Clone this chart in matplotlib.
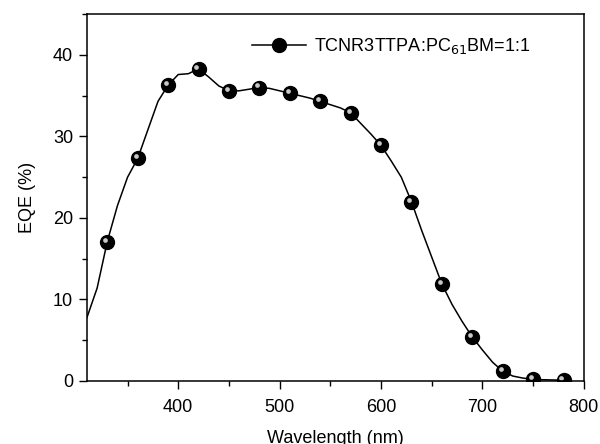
import matplotlib
matplotlib.use('Agg')
from matplotlib import pyplot as plt
from matplotlib import transforms
from matplotlib.ticker import MultipleLocator

plt.rcParams['font.family'] = ['Liberation Sans', 'DejaVu Sans']
plt.rcParams['font.size'] = 13

# EQE spectrum, every 10 nm (markers every 30 nm starting at 330)
wavelength = [310, 320, 330, 340, 350, 360, 370, 380, 390, 400,
              410, 420, 430, 440, 450, 460, 470, 480, 490, 500,
              510, 520, 530, 540, 550, 560, 570, 580, 590, 600,
              610, 620, 630, 640, 650, 660, 670, 680, 690, 700,
              710, 720, 730, 740, 750, 760, 770, 780]
eqe = [7.8, 11.4, 17.1, 21.5, 25.0, 27.3, 30.8, 34.3, 36.3, 37.6,
       37.7, 38.3, 37.3, 36.2, 35.6, 35.6, 35.8, 36.0, 35.9, 35.6,
       35.3, 35.0, 34.7, 34.3, 33.9, 33.5, 32.9, 31.6, 30.3, 28.9,
       27.0, 25.0, 22.0, 18.5, 15.2, 11.9, 9.4, 7.3, 5.4, 3.8,
       2.3, 1.2, 0.6, 0.35, 0.2, 0.15, 0.12, 0.1]
label = 'TCNR3TTPA:PC$_{61}$BM=1:1'

fig, ax = plt.subplots(figsize=(6, 4.44), dpi=100)
fig.subplots_adjust(left=0.145, right=0.973, top=0.968, bottom=0.142)

ax.plot(wavelength, eqe, color='black', lw=1.1, marker='o', markersize=10,
        markerfacecolor='black', markeredgecolor='black', markevery=(2, 3),
        label=label)
# little highlight on each ball
hl = transforms.offset_copy(ax.transData, fig=fig, x=-1.5, y=1.5, units='points')
ax.plot(wavelength, eqe, ls='none', marker='o', markersize=3.4,
        markerfacecolor='#c8c8c8', markeredgecolor='none', markevery=(2, 3),
        transform=hl)

ax.set_xlim(310, 800)
ax.set_ylim(0, 45)
ax.xaxis.set_major_locator(MultipleLocator(100))
ax.xaxis.set_minor_locator(MultipleLocator(50))
ax.yaxis.set_major_locator(MultipleLocator(10))
ax.yaxis.set_minor_locator(MultipleLocator(5))
ax.tick_params(which='major', direction='out', length=6, width=1, pad=4)
ax.tick_params(which='minor', direction='out', length=3.5, width=1)
ax.tick_params(axis='x', which='major', pad=7)
for s in ax.spines.values():
    s.set_linewidth(1.1)

ax.set_xlabel('Wavelength (nm)', labelpad=10)
ax.set_ylabel('EQE (%)', labelpad=12)

ax.legend(loc='upper left', bbox_to_anchor=(0.3, 0.985), frameon=False,
          handlelength=3.0, handletextpad=0.4, markerscale=1.0)

fig.savefig('out.png', dpi=100)
